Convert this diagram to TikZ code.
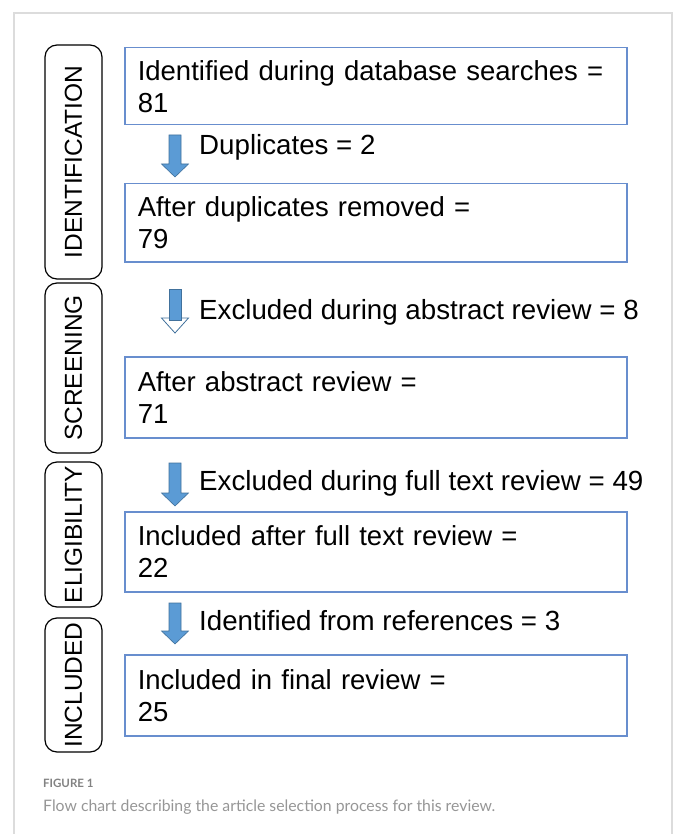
\documentclass[tikz,border=0pt]{standalone}
\usepackage{fontspec}
\setmainfont{Liberation Sans}
\newfontfamily\capfont{Lato}

\definecolor{boxblue}{RGB}{104,142,206}
\definecolor{arrowblue}{RGB}{91,155,213}
\definecolor{arrowedge}{RGB}{65,113,156}
\definecolor{framegray}{RGB}{220,220,220}
\definecolor{capgray}{RGB}{150,150,150}
\definecolor{fignogray}{RGB}{130,130,130}

\tikzset{
  stagebox/.style={draw=boxblue, line width=1.5pt, anchor=north west, text width=476pt,
    inner xsep=13pt, inner ysep=0pt, align=left, font=\fontsize{27.5}{32}\selectfont},
  phase/.style={draw, rounded corners=12pt, line width=1.2pt, rotate=90,
    minimum height=57pt, inner sep=0pt, font=\fontsize{24.5}{28}\selectfont},
  steplabel/.style={anchor=base west, inner sep=0pt, font=\fontsize{27.7}{32}\selectfont},
  captext/.style={anchor=base west, inner sep=0pt},
}

% block arrow: top of shaft, tip
\newcommand{\blockarrow}[2]{%
  \filldraw[fill=arrowblue, draw=arrowedge, line width=0.6pt]
    (169,#1) -- (181,#1) -- (181,#2-13) -- (188.5,#2-13) -- (175,#2)
    -- (161.5,#2-13) -- (169,#2-13) -- cycle;}

\begin{document}
\begin{tikzpicture}[x=1pt,y=-1pt]
   \useasboundingbox (0,0) rectangle (676,834);
   \draw [framegray, line width=1.5pt] (14,834) -- (14,13) -- (672,13) -- (672,834);

   % phases
   \node [phase, minimum width=234pt] (identph) at (73.5,162) {IDENTIFICATION};
   \node [phase, minimum width=170pt] (screenph) at (73.5,368) {SCREENING};
   \node [phase, minimum width=145pt] (eligph) at (73.5,534.5) {ELIGIBILITY};
   \node [phase, minimum width=134pt] (inclph) at (73.5,685) {INCLUDED};

   % counts
   \node [stagebox, minimum height=77pt] (found) at (124,47) {Identified during database searches =\\81};
   \node [stagebox, minimum height=78pt] (dedup) at (124,183) {After duplicates removed =\\79};
   \node [stagebox, minimum height=81pt] (abstr) at (124,356) {After abstract review =\\71};
   \node [stagebox, minimum height=80pt] (fulltext) at (124,511) {Included after full text review =\\22};
   \node [stagebox, minimum height=81pt] (final) at (124,654) {Included in final review =\\25};

   % arrows between counts
   \blockarrow{135}{177}
   \filldraw [fill=white, draw=arrowedge, line width=0.8pt]
     (181,318) -- (188.5,318) -- (175,333) -- (161.5,318) -- (169,318);
   \filldraw [fill=arrowblue, draw=arrowedge, line width=0.6pt]
     (169,289) rectangle (181,320);
   \blockarrow{463}{506}
   \blockarrow{603}{644}

   \node [steplabel] (dupl) at (199,155) {Duplicates = 2};
   \node [steplabel] (exabs) at (199,319) {Excluded during abstract review = 8};
   \node [steplabel] (exfull) at (199,490) {Excluded during full text review = 49};
   \node [steplabel] (fromref) at (199,630) {Identified from references = 3};

   % caption
   \node [captext, text=fignogray, font=\capfont\bfseries\fontsize{11.5}{14}\selectfont] (figno) at (43,787) {FIGURE 1};
   \node [captext, text=capgray, font=\capfont\fontsize{15.8}{19}\selectfont] (figcap) at (43,811)
     {Flow chart describing the article selection process for this review.};
\end{tikzpicture}
\end{document}
